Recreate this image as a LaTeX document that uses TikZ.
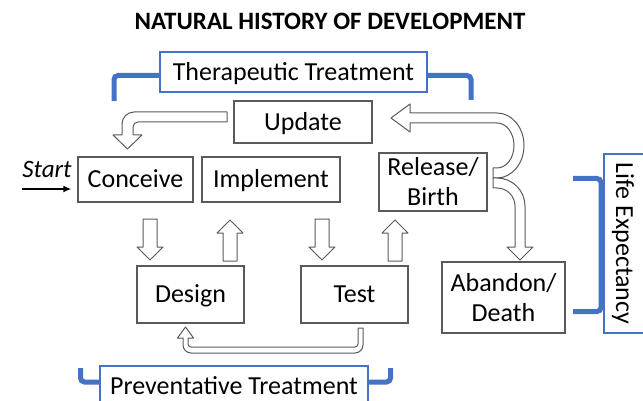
\documentclass[tikz,border=0pt]{standalone}
\usepackage{fontspec}
\setmainfont{Carlito}
\usetikzlibrary{arrows.meta}

\definecolor{boxgray}{HTML}{5A5A5A}
\definecolor{treatblue}{HTML}{4472C4}

\tikzset{
  basebox/.style={rectangle,inner sep=0pt,font=\fontsize{26}{30}\selectfont},
  stage/.style={basebox,draw=boxgray,line width=1.2pt,text height=16.7pt,text depth=0pt},
  twoline/.style={basebox,draw=boxgray,line width=1.2pt,align=center},
  treatment/.style={basebox,draw=treatblue,line width=2pt,text height=16.7pt,text depth=0pt},
  bracket/.style={treatblue,line width=5pt,rounded corners=4pt},
  blockline/.style={draw=boxgray,fill=white,line width=1pt,line join=round}
}

% straight block arrows between the rows
\newcommand{\blockdown}[1]{\draw[blockline] (#1-7,219) -- (#1+7,219) -- (#1+7,247) -- (#1+13,247) -- (#1,260) -- (#1-13,247) -- (#1-7,247) -- cycle;}
\newcommand{\blockup}[1]{\draw[blockline] (#1-7,261) -- (#1+7,261) -- (#1+7,233) -- (#1+13,233) -- (#1,220) -- (#1-13,233) -- (#1-7,233) -- cycle;}

\begin{document}
\begin{tikzpicture}[x=1pt,y=-1pt]
\useasboundingbox (0,0) rectangle (643,401);

\node[font=\fontsize{25}{30}\selectfont\bfseries] (title) at (330,21.7) {NATURAL HISTORY OF DEVELOPMENT};

% treatments
\node[treatment,minimum width=267pt,minimum height=40pt] (therapeutic) at (293.5,72) {Therapeutic Treatment};
\node[treatment,minimum width=268pt,minimum height=40pt] (preventative) at (234,386) {Preventative Treatment};
\node[treatment,rotate=-90,minimum width=179pt,minimum height=41pt] (life) at (624.5,243.5) {Life Expectancy};

\draw[bracket] ([yshift=-3.5pt]therapeutic.west) -| (114,101);
\draw[bracket] ([yshift=-3.5pt]therapeutic.east) -| (471,100);
\draw[bracket] ([yshift=4pt]preventative.west) -| (80.5,368);
\draw[bracket] ([yshift=4pt]preventative.east) -| (390.5,368);
\draw[bracket] (573,178.5) -- (601,178.5) -- (601,311.5) -- (573,311.5);

% stages
\node[stage,minimum width=138pt,minimum height=42pt] (update) at (303,122) {Update};
\node[stage,minimum width=115pt,minimum height=45pt] (conceive) at (135.5,179.5) {Conceive};
\node[stage,minimum width=138pt,minimum height=45pt] (implement) at (271,179.5) {Implement};
\node[twoline,minimum width=108pt,minimum height=58pt] (release) at (433,182) {\raisebox{-3pt}{Release/}\\\raisebox{-3pt}{Birth}};
\node[stage,minimum width=107pt,minimum height=57pt] (design) at (190.5,294.5) {Design};
\node[stage,minimum width=107pt,minimum height=57pt] (test) at (354.5,294.5) {Test};
\node[twoline,minimum width=123pt,minimum height=71pt] (abandon) at (503.5,297.5) {Abandon/\\Death};

\node[font=\fontsize{25}{30}\selectfont\itshape,anchor=base] (start) at (47,178) {Start};
\coordinate (startin) at (22,189);
\draw[-{Latex[length=8pt,width=7pt]},line width=1.6pt,shorten >=6pt] (startin) -- (startin -| conceive.west);

\blockdown{150}
\blockup{230}
\blockdown{322}
\blockup{395}

% update back to conceive
\draw[blockline] (227,112) -- (134,112) .. controls (127.4,112) and (122,117.4) .. (122,124) -- (122,135) -- (113,135) -- (127.5,149) -- (142,135) -- (133,135) -- (133,127) .. controls (133,124.2) and (135.2,122) .. (138,122) -- (227,122) -- cycle;

% release up to update
\draw[blockline] (410,113) -- (497,113) .. controls (511.9,113) and (524,127.6) .. (524,145.5) .. controls (524,163.4) and (511.9,178) .. (497,178) -- (493,178) -- (493,168) -- (497,168) .. controls (506.4,168) and (514,158) .. (514,145.5) .. controls (514,133) and (506.4,123) .. (497,123) -- (410,123) -- (410,132) -- (391,118) -- (410,104) -- cycle;

% release down to abandon
\draw[blockline] (493,178) -- (497,178) .. controls (512.4,178) and (525,190.6) .. (525,206) -- (525,247) -- (533,247) -- (520,260) -- (507,247) -- (515,247) -- (515,206) .. controls (515,196.1) and (506.9,188) .. (497,188) -- (493,188) -- cycle;

% test back to design
\draw[blockline] (363,328) -- (363,345) .. controls (363,349.4) and (359.4,353) .. (355,353) -- (191,353) .. controls (186.6,353) and (183,349.4) .. (183,345) -- (183,338) -- (177.5,338) -- (185.5,327) -- (193.5,338) -- (188,338) -- (188,344) .. controls (188,345.7) and (189.3,347) .. (191,347) -- (355,347) .. controls (356.7,347) and (358,345.7) .. (358,344) -- (358,328) -- cycle;

\end{tikzpicture}
\end{document}
